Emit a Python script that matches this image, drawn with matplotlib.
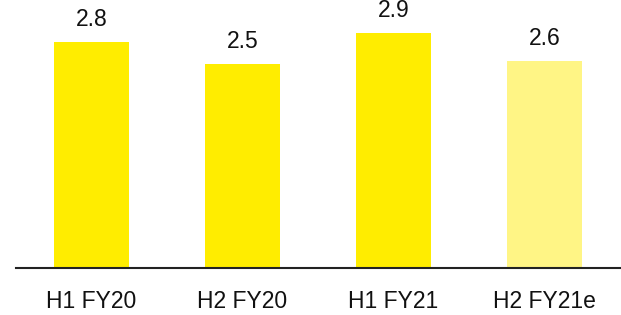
import matplotlib.pyplot as plt

periods = ["H1 FY20", "H2 FY20", "H1 FY21", "H2 FY21e"]
values = [2.79, 2.52, 2.90, 2.56]
colors = ["#FFED00", "#FFED00", "#FFED00", "#FFF585"]

plt.rcParams["font.family"] = ["Liberation Sans", "DejaVu Sans"]

fig = plt.figure(figsize=(6.21, 3.15), dpi=100)
ax = fig.add_axes([16 / 621, 47 / 315, 604 / 621, 268 / 315])

x = range(len(periods))
bars = ax.bar(x, values, width=0.5, color=colors)

for b, v in zip(bars, values):
    ax.annotate(f"{v:.1f}", (b.get_x() + b.get_width() / 2, v),
                xytext=(0, 8), textcoords="offset points",
                ha="center", va="bottom", fontsize=16.5, color="#111111")

ax.set_xlim(-0.5, 3.5)
ax.set_ylim(0, 3.31)
ax.set_xticks(list(x))
ax.set_xticklabels(periods, fontsize=16.5, color="#111111")
ax.tick_params(axis="x", length=0, pad=16)
ax.set_yticks([])
for s in ["top", "right", "left"]:
    ax.spines[s].set_visible(False)
ax.spines["bottom"].set_linewidth(1.5)
ax.spines["bottom"].set_color("#222222")

fig.savefig("out.png", dpi=100)
